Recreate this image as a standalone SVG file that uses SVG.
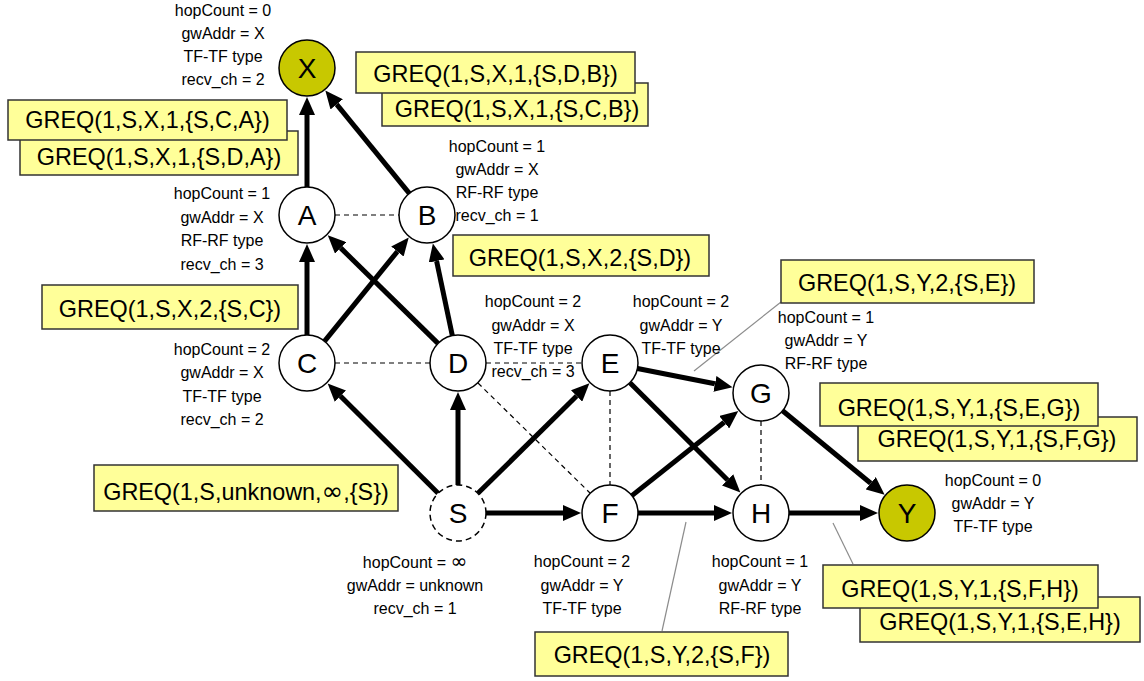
<svg xmlns="http://www.w3.org/2000/svg" width="1144" height="681" viewBox="0 0 1144 681">
  <defs>
    <marker id="head" viewBox="0 0 18 16" refX="0" refY="8" markerWidth="18" markerHeight="16" markerUnits="userSpaceOnUse" orient="auto">
      <path d="M0,0 L18,8 L0,16 z" fill="#000"/>
    </marker>
    <style>
      .arrow { stroke: #000; stroke-width: 5; fill: none; marker-end: url(#head); }
      .link { stroke: #000; stroke-width: 1.2; stroke-dasharray: 5 4; fill: none; }
      .callout { stroke: #8c8c8c; stroke-width: 1.2; fill: none; }
      .node circle { fill: #fff; stroke: #000; stroke-width: 1.5; }
      .node.gw circle { fill: #c8c800; }
      .node.src circle { stroke-dasharray: 6 4; }
      .node text { font-family: "Liberation Sans", Arial, sans-serif; font-size: 28px; text-anchor: middle; fill: #000; }
      .info { font-family: "Liberation Sans", Arial, sans-serif; font-size: 16px; text-anchor: middle; fill: #000; }
      .msg rect { fill: #ffff99; stroke: #333; stroke-width: 1.5; }
      .msg text { font-family: "Liberation Sans", Arial, sans-serif; font-size: 23.4px; text-anchor: middle; fill: #000; }
      .inf { font-family: "DejaVu Sans", sans-serif; }
    </style>
  </defs>

  <rect width="1144" height="681" fill="#fff"/>

  <!-- connectors -->
  <g id="connectors">
    <!-- neighbour links -->
    <line class="link" x1="335" y1="215" x2="399" y2="215"/>
    <line class="link" x1="335" y1="363" x2="430" y2="363"/>
    <line class="link" x1="486" y1="363" x2="582" y2="363"/>
    <line class="link" x1="478" y1="383" x2="590" y2="493"/>
    <line class="link" x1="610" y1="391" x2="610" y2="485"/>
    <line class="link" x1="761" y1="421" x2="761" y2="485"/>
    <!-- GREQ forwarding -->
    <line class="arrow" x1="307" y1="187" x2="307" y2="115"/>
    <line class="arrow" x1="409.3" y1="193.3" x2="336.7" y2="104.4"/>
    <line class="arrow" x1="307" y1="335" x2="307" y2="262"/>
    <line class="arrow" x1="324.6" y1="341.2" x2="397.4" y2="251.5"/>
    <line class="arrow" x1="438" y1="343.4" x2="340.6" y2="247.9"/>
    <line class="arrow" x1="452.3" y1="335.6" x2="436.6" y2="261"/>
    <line class="arrow" x1="438.1" y1="493.3" x2="340.4" y2="396.1"/>
    <line class="arrow" x1="458" y1="485" x2="458" y2="410"/>
    <line class="arrow" x1="477.9" y1="493.3" x2="576.6" y2="396"/>
    <line class="arrow" x1="486" y1="513" x2="563" y2="513"/>
    <line class="arrow" x1="637.5" y1="368.5" x2="714.9" y2="383.8"/>
    <line class="arrow" x1="629.9" y1="382.7" x2="727.6" y2="479.9"/>
    <line class="arrow" x1="631.9" y1="495.6" x2="724.2" y2="422.2"/>
    <line class="arrow" x1="638" y1="513" x2="714" y2="513"/>
    <line class="arrow" x1="782.6" y1="410.8" x2="870.7" y2="483.2"/>
    <line class="arrow" x1="789" y1="513" x2="860" y2="513"/>
    <!-- message callouts -->
    <line class="callout" x1="781" y1="302" x2="694" y2="371"/>
    <line class="callout" x1="662" y1="631" x2="686" y2="522"/>
    <line class="callout" x1="853" y1="564" x2="833" y2="523"/>
  </g>

  <!-- nodes -->
  <g id="node-X" class="node gw"><circle cx="307" cy="68" r="28"/><text x="307" y="78">X</text></g>
  <g id="node-A" class="node"><circle cx="307" cy="215" r="28"/><text x="307" y="225">A</text></g>
  <g id="node-B" class="node"><circle cx="427" cy="215" r="28"/><text x="427" y="225">B</text></g>
  <g id="node-C" class="node"><circle cx="307" cy="363" r="28"/><text x="307" y="373">C</text></g>
  <g id="node-D" class="node"><circle cx="458" cy="363" r="28"/><text x="458" y="373">D</text></g>
  <g id="node-E" class="node"><circle cx="610" cy="363" r="28"/><text x="610" y="373">E</text></g>
  <g id="node-G" class="node"><circle cx="761" cy="393" r="28"/><text x="761" y="403">G</text></g>
  <g id="node-S" class="node src"><circle cx="458" cy="513" r="28"/><text x="458" y="523">S</text></g>
  <g id="node-F" class="node"><circle cx="610" cy="513" r="28"/><text x="610" y="523">F</text></g>
  <g id="node-H" class="node"><circle cx="761" cy="513" r="28"/><text x="761" y="523">H</text></g>
  <g id="node-Y" class="node gw"><circle cx="907" cy="513" r="28"/><text x="907" y="523">Y</text></g>

  <!-- node state -->
  <g id="info-X" class="info">
    <text x="223" y="16">hopCount = 0</text><text x="223" y="39">gwAddr = X</text>
    <text x="223" y="62">TF-TF type</text><text x="223" y="85">recv_ch = 2</text>
  </g>
  <g id="info-A" class="info">
    <text x="222" y="199">hopCount = 1</text><text x="222" y="223">gwAddr = X</text>
    <text x="222" y="246">RF-RF type</text><text x="222" y="270">recv_ch = 3</text>
  </g>
  <g id="info-B" class="info">
    <text x="497" y="152">hopCount = 1</text><text x="497" y="175">gwAddr = X</text>
    <text x="497" y="198">RF-RF type</text><text x="497" y="221">recv_ch = 1</text>
  </g>
  <g id="info-C" class="info">
    <text x="222" y="355">hopCount = 2</text><text x="222" y="378">gwAddr = X</text>
    <text x="222" y="402">TF-TF type</text><text x="222" y="425">recv_ch = 2</text>
  </g>
  <g id="info-D" class="info">
    <text x="533" y="307">hopCount = 2</text><text x="533" y="331">gwAddr = X</text>
    <text x="533" y="354">TF-TF type</text><text x="533" y="377">recv_ch = 3</text>
  </g>
  <g id="info-E" class="info">
    <text x="681" y="307">hopCount = 2</text><text x="681" y="331">gwAddr = Y</text>
    <text x="681" y="354">TF-TF type</text>
  </g>
  <g id="info-G" class="info">
    <text x="826" y="323">hopCount = 1</text><text x="826" y="346">gwAddr = Y</text>
    <text x="826" y="369">RF-RF type</text>
  </g>
  <g id="info-S" class="info">
    <text x="415" y="568">hopCount = <tspan class="inf" font-size="20">∞</tspan></text><text x="415" y="591">gwAddr = unknown</text>
    <text x="415" y="614">recv_ch = 1</text>
  </g>
  <g id="info-F" class="info">
    <text x="582" y="567">hopCount = 2</text><text x="582" y="591">gwAddr = Y</text>
    <text x="582" y="614">TF-TF type</text>
  </g>
  <g id="info-H" class="info">
    <text x="760" y="567">hopCount = 1</text><text x="760" y="591">gwAddr = Y</text>
    <text x="760" y="614">RF-RF type</text>
  </g>
  <g id="info-Y" class="info">
    <text x="993" y="486">hopCount = 0</text><text x="993" y="509">gwAddr = Y</text>
    <text x="993" y="532">TF-TF type</text>
  </g>

  <!-- GREQ messages -->
  <g id="msg-SDA" class="msg"><rect x="20" y="131" width="278" height="44"/><text x="159" y="165">GREQ(1,S,X,1,{S,D,A})</text></g>
  <g id="msg-SCA" class="msg"><rect x="8" y="100" width="279" height="40"/><text x="147.5" y="128">GREQ(1,S,X,1,{S,C,A})</text></g>
  <g id="msg-SCB" class="msg"><rect x="382" y="83" width="266" height="43"/><text x="517" y="117">GREQ(1,S,X,1,{S,C,B})</text></g>
  <g id="msg-SDB" class="msg"><rect x="356" y="52" width="279" height="41"/><text x="495.5" y="82">GREQ(1,S,X,1,{S,D,B})</text></g>
  <g id="msg-SC" class="msg"><rect x="42" y="285" width="256" height="44"/><text x="170" y="317">GREQ(1,S,X,2,{S,C})</text></g>
  <g id="msg-SD" class="msg"><rect x="453" y="235" width="256" height="41"/><text x="580" y="266">GREQ(1,S,X,2,{S,D})</text></g>
  <g id="msg-SE" class="msg"><rect x="781" y="260" width="253" height="43"/><text x="907" y="291">GREQ(1,S,Y,2,{S,E})</text></g>
  <g id="msg-S" class="msg"><rect x="94" y="465" width="304" height="46"/><text x="246" y="500">GREQ(1,S,unknown,<tspan class="inf" font-size="26">∞</tspan>,{S})</text></g>
  <g id="msg-SFG" class="msg"><rect x="858" y="417" width="279" height="44"/><text x="997" y="447">GREQ(1,S,Y,1,{S,F,G})</text></g>
  <g id="msg-SEG" class="msg"><rect x="820" y="383" width="278" height="43"/><text x="959" y="416">GREQ(1,S,Y,1,{S,E,G})</text></g>
  <g id="msg-SEH" class="msg"><rect x="860" y="597" width="280" height="45"/><text x="1000" y="630">GREQ(1,S,Y,1,{S,E,H})</text></g>
  <g id="msg-SFH" class="msg"><rect x="823" y="565" width="275" height="43"/><text x="960" y="597">GREQ(1,S,Y,1,{S,F,H})</text></g>
  <g id="msg-SF" class="msg"><rect x="535" y="632" width="253" height="44"/><text x="662" y="663">GREQ(1,S,Y,2,{S,F})</text></g>
</svg>
